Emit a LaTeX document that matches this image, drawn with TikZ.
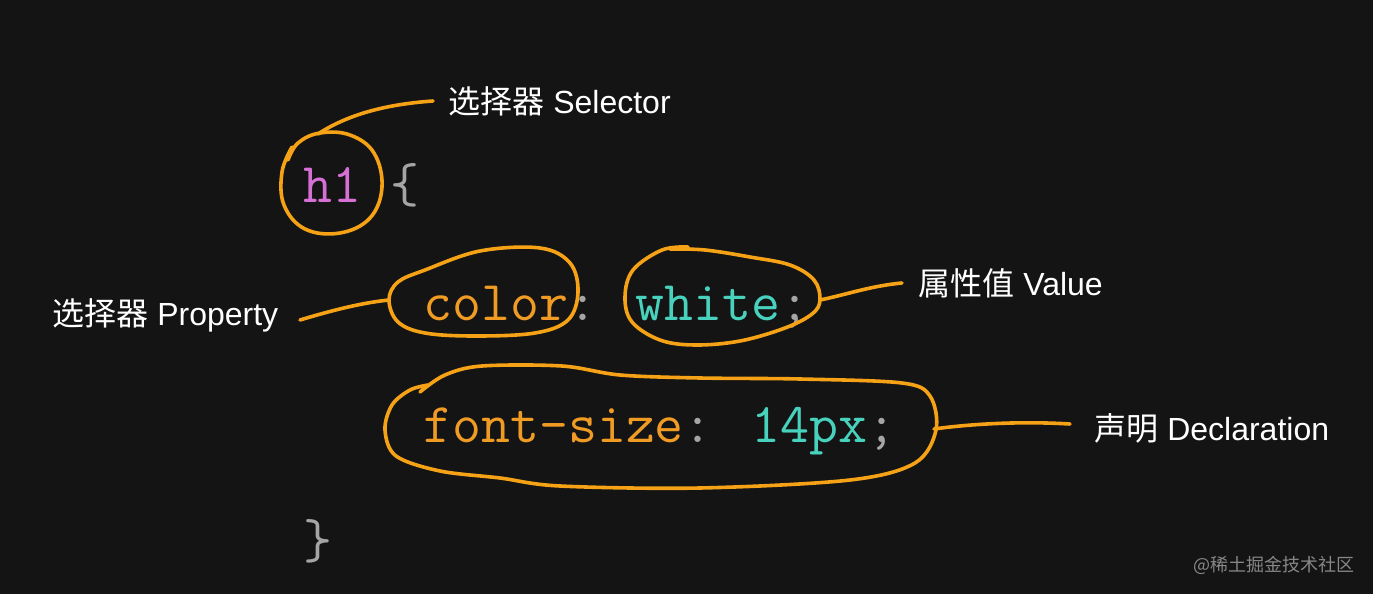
\documentclass[tikz,border=0pt]{standalone}
\usepackage{fontspec}
\setmainfont{Liberation Sans}
\newfontfamily\cjk{Noto Sans CJK SC}
\definecolor{bgc}{RGB}{20,20,20}
\definecolor{loopc}{RGB}{245,162,22}
\definecolor{kwc}{RGB}{240,156,36}
\definecolor{valc}{RGB}{72,210,190}
\definecolor{selc}{RGB}{214,112,214}
\definecolor{punc}{RGB}{165,165,165}
\definecolor{wmc}{RGB}{135,135,135}
\tikzset{
  code/.style={inner sep=0pt, anchor=base west, font=\ttfamily\fontsize{28.1}{28.1}\selectfont},
  lbl/.style={inner sep=0pt, anchor=base west, text=white, font=\fontsize{16}{16}\selectfont},
  hand/.style={draw=loopc, line width=1.8pt, line cap=round, line join=round},
}
\begin{document}
\begin{tikzpicture}[x=0.5pt,y=-0.5pt]
\fill[bgc] (0,0) rectangle (1373,594);
\useasboundingbox (0,0) rectangle (1373,594);

% code
\node[code] (h1) at (303,202) {\textcolor{selc}{h1} \textcolor{punc}{\{}};
\node[code] (l2) at (423,320) {\textcolor{kwc}{color}\textcolor{punc}{:} \textcolor{valc}{white}\textcolor{punc}{;}};
\node[code] (l3) at (423,442) {\textcolor{kwc}{font-size}\textcolor{punc}{:} \textcolor{valc}{14px}\textcolor{punc}{;}};
\node[code] (close) at (303,558) {\textcolor{punc}{\}}};

% labels
\node[lbl] (sel) at (448,113) {{\cjk 选择器} Selector};
\node[lbl] (prop) at (52,325) {{\cjk 选择器} Property};
\node[lbl] (val) at (918,295) {{\cjk 属性值} Value};
\node[lbl] (decl) at (1094,440) {{\cjk 声明} Declaration};
\node[inner sep=0pt, anchor=base west, text=wmc, font=\cjk\fontsize{9}{9}\selectfont] (wm) at (1193,571) {@稀土掘金技术社区};

% coordinates
\coordinate (selend) at (318,134);
\coordinate (propend) at (389,300);
\coordinate (valend) at (820,300);
\coordinate (declend) at (934,429);
\coordinate (selstart) at (433,101);
\coordinate (propstart) at (300,320);
\coordinate (valstart) at (902,283);
\coordinate (declstart) at (1070,424);

% loop around h1
\draw[hand] plot[smooth, tension=0.65] coordinates {(292,147) (282,172) (284,205) (305,229) (340,233) (370,218) (382,187) (374,153) (350,135) (320,133) (298,143) (288,160)};
% loop around color
\draw[hand] plot[smooth cycle, tension=0.6] coordinates {(389,300) (398,282) (425,270) (480,251) (540,248) (570,263) (578,292) (568,320) (535,333) (475,336) (425,333) (398,322)};
% loop around white;
\draw[hand] plot[smooth, tension=0.6] coordinates {(688,247) (662,250) (633,270) (625,297) (632,322) (660,340) (695,345) (740,341) (785,328) (812,314) (820,300) (814,280) (790,265) (750,257) (705,250) (670,249)};
% loop around declaration
\draw[hand] plot[smooth, tension=0.55] coordinates {(428,385) (410,390) (392,405) (385,430) (396,456) (440,471) (500,478) (560,486) (700,488) (850,480) (915,463) (936,430) (930,396) (902,383) (800,379) (700,378) (620,375) (562,366) (482,366) (445,375) (420,392)};

% connectors
\draw[hand] (selstart) .. controls (390,104) and (350,113) .. (selend);
\draw[hand] (propstart) .. controls (330,311) and (360,303) .. (propend);
\draw[hand] (valend) .. controls (845,295) and (870,286) .. (valstart);
\draw[hand] (declend) .. controls (970,424) and (1020,421) .. (declstart);
\end{tikzpicture}
\end{document}
